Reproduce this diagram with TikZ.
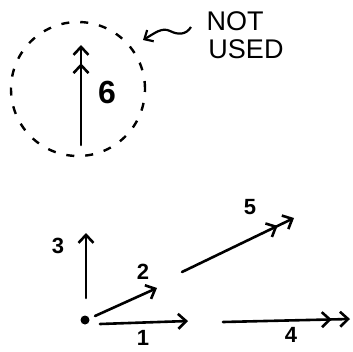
\documentclass[tikz,border=0pt]{standalone}
\usepackage{fontspec}
\setmainfont{Liberation Sans}
\usetikzlibrary{arrows.meta}

\begin{document}
\begin{tikzpicture}[x=1pt,y=-1pt,
  vec/.style={line width=2.6pt,line cap=round,-{Straight Barb[length=8pt,width=15pt,line width=2.6pt]}},
  dvec/.style={line width=2.6pt,line cap=round,-{Straight Barb[length=8pt,width=15pt,line width=2.6pt,sep=7pt]Straight Barb[length=8pt,width=15pt,line width=2.6pt]}},
  num/.style={font=\bfseries\fontsize{22}{22}\selectfont},
  word/.style={font=\fontsize{27}{27}\selectfont}]
\useasboundingbox (0,0) rectangle (353,351);
% the vector that is left out
\node[circle,draw,dashed,dash pattern=on 8pt off 11pt,line width=2.4pt,minimum size=134pt] (unused) at (78,89) {};
\coordinate (t6) at (81,145);
\coordinate (h6) at (81,45);
\draw[dvec] (t6) -- (h6);
\node[font=\bfseries\fontsize{32}{32}\selectfont] (l6) at (107,92) {6};
\node[word] (not) at (235,21) {NOT};
\node[word] (used) at (246,49) {USED};
\draw[line width=2.2pt,-{Straight Barb[length=7pt,width=13pt,line width=2.2pt]}] (not.west) ++(-12,6) coordinate (wig)
  .. controls (186,35) and (178,35) .. (170,31) .. controls (162,27) and (155,33) .. (143,40);
% the rest
\node[circle,fill,inner sep=0pt,minimum size=9pt] (origin) at (85,320) {};
\coordinate (t1) at (100,324);
\coordinate (h1) at (188,321);
\coordinate (t2) at (95,316);
\coordinate (h2) at (157,288);
\coordinate (t3) at (86,298);
\coordinate (h3) at (86,233);
\coordinate (t4) at (223,322);
\coordinate (h4) at (350,319);
\coordinate (t5) at (182,272);
\coordinate (h5) at (294,218);
\draw[vec] (t1) -- (h1);
\draw[vec] (t2) -- (h2);
\draw[vec] (t3) -- (h3);
\draw[dvec] (t4) -- (h4);
\draw[dvec] (t5) -- (h5);
\node[num] (l1) at (143,338) {1};
\node[num] (l2) at (143,272) {2};
\node[num] (l3) at (58,246) {3};
\node[num] (l4) at (291,335) {4};
\node[num] (l5) at (250,207) {5};
\end{tikzpicture}
\end{document}
